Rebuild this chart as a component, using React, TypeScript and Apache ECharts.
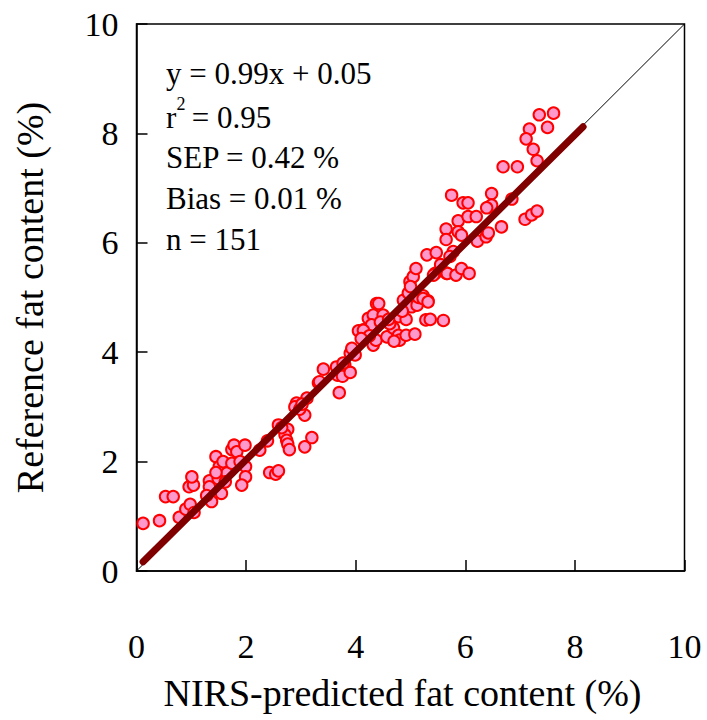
import React, { useEffect, useRef } from "react";
import * as echarts from "echarts";

// NIRS-predicted (x) vs reference (y) fat content, %
const predicted: number[] = [
  0.12, 0.42, 0.53, 0.67, 0.78, 0.9, 0.98, 1.05, 0.96, 1.04, 1.01, 1.33, 1.33, 1.37, 1.45, 1.51,
  1.58, 1.49, 1.55, 1.65, 1.74, 1.74, 1.78, 1.83, 1.89, 1.98, 1.99, 1.99, 1.92, 1.28, 1.62, 1.45,
  2.25, 2.39, 2.59, 2.76, 2.71, 2.74, 2.76, 2.79, 3.07, 3.2, 3.07, 2.92, 2.89, 3.11, 3.32, 3.41,
  3.7, 3.65, 3.67, 3.76, 3.8, 3.9, 3.93, 3.9, 3.99, 2.43, 2.54, 2.59, 2.98, 3.34, 3.02, 2.65,
  3.77, 3.93, 4.14, 4.23, 4.32, 4.29, 4.38, 4.42, 4.5, 4.32, 4.37, 4.57, 4.69, 4.78, 4.8, 4.92,
  5.08, 4.78, 4.92, 4.87, 4.96, 5.02, 5.12, 5.23, 5.32, 5.28, 5.36, 5.6, 4.99, 5.05, 5.1, 5.45,
  5.66, 4.05, 4.14, 4.25, 4.45, 4.62, 4.7, 5.15, 4.1, 4.6, 4.85, 5.0,
  5.75, 5.96, 6.05, 6.48, 6.42, 6.48, 6.85, 7.09, 5.87, 6.05, 6.2, 5.65, 5.65, 5.87, 5.93, 6.22,
  6.38, 6.42, 6.66, 5.3, 5.47, 5.78, 5.42, 5.67, 5.83, 5.93, 6.07, 5.23, 5.32, 7.35, 7.61, 7.17,
  7.5, 7.11, 7.24, 7.31, 6.69, 6.95, 7.21, 7.31, 6.39, 5.72, 5.55,
];
const reference: number[] = [
  0.87, 0.92, 1.36, 1.36, 0.98, 1.13, 1.22, 1.07, 1.54, 1.57, 1.72, 1.65, 1.54, 1.27, 2.09, 1.91,
  2.0, 1.69, 1.42, 1.79, 1.97, 2.22, 2.3, 2.18, 2.0, 2.3, 1.91, 1.72, 1.57, 1.38, 1.63, 1.8,
  2.21, 2.38, 2.67, 2.59, 2.49, 2.39, 2.32, 2.22, 2.27, 2.44, 2.85, 3.07, 3.0, 3.16, 3.44, 3.69,
  3.26, 3.73, 3.58, 3.56, 3.77, 3.63, 4.04, 3.98, 3.95, 1.8, 1.77, 1.83, 2.96, 3.46, 3.05, 2.62,
  3.8, 4.07, 4.41, 4.62, 4.68, 4.5, 4.89, 4.89, 4.68, 4.13, 4.22, 4.28, 4.44, 4.31, 4.22, 4.31,
  4.33, 4.65, 4.6, 4.95, 5.08, 4.83, 4.86, 5.03, 4.94, 4.59, 4.6, 4.58, 5.29, 5.38, 5.53, 5.44,
  5.44, 4.39, 4.4, 4.3, 4.55, 4.52, 4.2, 5.0, 4.25, 4.6, 4.75, 5.2,
  6.87, 6.73, 6.73, 6.9, 6.65, 6.69, 6.8, 6.43, 6.4, 6.48, 6.48, 6.25, 6.06, 6.2, 6.14, 6.03,
  6.11, 6.18, 6.29, 5.78, 5.82, 5.84, 5.41, 5.44, 5.41, 5.53, 5.44, 4.98, 4.92, 8.34, 8.37, 8.08,
  8.11, 7.9, 7.71, 7.5, 7.39, 7.39, 6.51, 6.58, 6.64, 5.75, 5.6,
];

// fitted line y = 0.99x + 0.05, drawn between these end points
const fitX: number[] = [0.12, 8.15];
const fitY: number[] = [0.17, 8.12];
// 1:1 reference line
const identityX: number[] = [0, 10];
const identityY: number[] = [0, 10];

const statLines: string[] = ["y = 0.99x + 0.05", "SEP = 0.42 %", "Bias = 0.01 %", "n = 151"];
const xTitle = "NIRS-predicted fat content (%)";
const yTitle = "Reference fat content (%)";

const FONT = "Liberation Serif";

export default function App() {
  const ref = useRef<HTMLDivElement>(null);
  useEffect(() => {
    if (!ref.current) return;
    const chart = echarts.init(ref.current, null, { renderer: "svg" });
    const pts = predicted.map((x, i) => [x, reference[i]]);
    const txt = (text: string, left: number, top: number, size = 31) => ({
      text,
      left,
      top,
      padding: 0,
      itemGap: 0,
      textStyle: {
        fontFamily: FONT,
        fontSize: size,
        fontWeight: "normal",
        color: "#000",
        lineHeight: size,
      },
      z: 10,
    });
    chart.setOption({
      animation: false,
      backgroundColor: "#fff",
      title: [
        txt(statLines[0], 166, 58),
        txt("r", 166, 102),
        txt("2", 176.5, 95, 18),
        txt(" = 0.95", 184, 102),
        txt(statLines[1], 166, 142),
        txt(statLines[2], 166, 183),
        txt(statLines[3], 166, 224),
      ],
      grid: {
        left: 136.5,
        right: 22.5,
        top: 24,
        bottom: 149,
        show: true,
        borderColor: "#000",
        borderWidth: 1.5,
        outerBoundsMode: "none",
      },
      xAxis: {
        type: "value",
        min: 0,
        max: 10,
        interval: 2,
        name: xTitle,
        nameLocation: "middle",
        nameGap: 103,
        nameTextStyle: { fontFamily: FONT, fontSize: 38, color: "#000", padding: [0, 16, 0, 0] },
        axisLine: { lineStyle: { color: "#000", width: 1.5 } },
        axisTick: { inside: true, length: 11, lineStyle: { color: "#000", width: 1.5 } },
        axisLabel: { fontFamily: FONT, fontSize: 34, color: "#000", margin: 58 },
        splitLine: { show: false },
      },
      yAxis: {
        type: "value",
        min: 0,
        max: 10,
        interval: 2,
        name: yTitle,
        nameLocation: "middle",
        nameGap: 88,
        nameRotate: 90,
        nameTextStyle: { fontFamily: FONT, fontSize: 38, color: "#000" },
        axisLine: { lineStyle: { color: "#000", width: 1.5 } },
        axisTick: { inside: true, length: 11, lineStyle: { color: "#000", width: 1.5 } },
        axisLabel: { fontFamily: FONT, fontSize: 34, color: "#000", margin: 18 },
        splitLine: { show: false },
      },
      series: [
        {
          type: "line",
          data: identityX.map((x, i) => [x, identityY[i]]),
          symbol: "none",
          lineStyle: { color: "#000", width: 1 },
          z: 1,
          silent: true,
        },
        {
          type: "scatter",
          data: pts,
          symbol: "circle",
          symbolSize: 11.5,
          itemStyle: { color: "#FF99CC", borderColor: "#FF0000", borderWidth: 2, opacity: 1 },
          z: 2,
        },
        {
          type: "line",
          data: fitX.map((x, i) => [x, fitY[i]]),
          symbol: "none",
          lineStyle: { color: "#800000", width: 7, cap: "round" },
          z: 3,
          silent: true,
        },
      ],
    });
    return () => chart.dispose();
  }, []);
  return (
    <div
      ref={ref}
      style={{ position: "fixed", left: 0, top: 0, width: 707, height: 720, background: "#fff" }}
    />
  );
}
